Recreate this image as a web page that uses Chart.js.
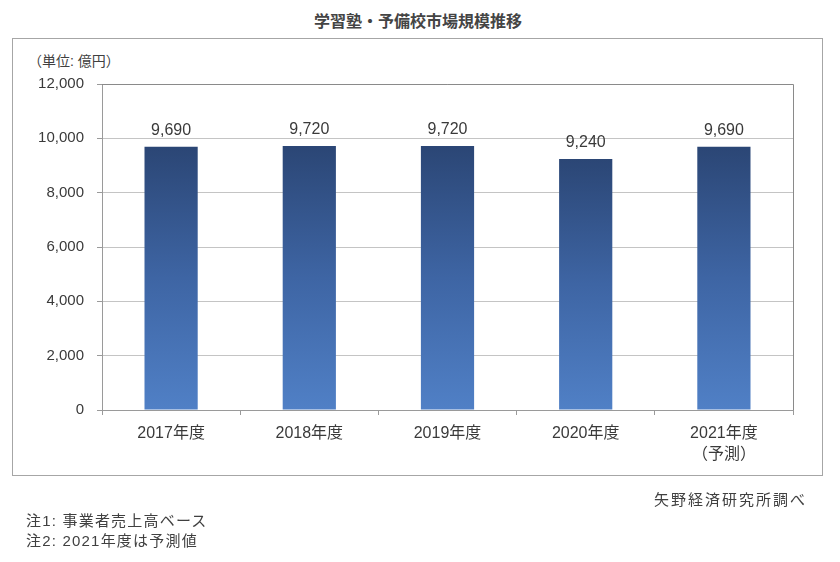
<!DOCTYPE html>
<html lang="ja">
<head>
<meta charset="utf-8">
<script src="https://cdn.jsdelivr.net/npm/chart.js@4.4.1/dist/chart.umd.min.js"></script>
<style>
  html, body { margin: 0; padding: 0; background: #fff; }
  #wrap { position: relative; width: 840px; height: 562px; overflow: hidden;
          font-family: 'Liberation Sans', 'Noto Sans CJK JP', sans-serif; color: #404040; }
  #title { position: absolute; left: 0; width: 836px; top: 11px; text-align: center;
           font-size: 16px; font-weight: bold; color: #444; line-height: 22px; }
  #box { position: absolute; left: 12px; top: 38px; width: 811px; height: 438px;
         border: 1px solid #a6a6a6; box-sizing: border-box; }
  #unit { position: absolute; left: 28px; top: 51px; font-size: 14px; line-height: 20px; color: #404040; }
  #chart { position: absolute; left: 0; top: 0; }
  #source { position: absolute; right: 33px; top: 489px; font-size: 15px; letter-spacing: 2px; line-height: 22px; }
  .note { position: absolute; left: 26px; font-size: 15px; letter-spacing: 1.2px; line-height: 20px; }
</style>
</head>
<body>
<div id="wrap">
  <div id="title">学習塾・予備校市場規模推移</div>
  <div id="box"></div>
  <div id="unit">（単位: 億円）</div>
  <canvas id="chart" width="840" height="562"></canvas>
  <div id="source">矢野経済研究所調べ</div>
  <div class="note" style="top:511px">注1: 事業者売上高ベース</div>
  <div class="note" style="top:531px">注2: 2021年度は予測値</div>
</div>
<script>
// ---- data ----
const categories = ['2017年度', '2018年度', '2019年度', '2020年度', ['2021年度', '（予測）']];
const marketSize = [9690, 9720, 9720, 9240, 9690];
const yTickValues = [0, 2000, 4000, 6000, 8000, 10000, 12000];

const FONT = "'Liberation Sans', 'Noto Sans CJK JP', sans-serif";
const TEXT = '#3a3a3a';
const fmt = v => Number(v).toLocaleString('en-US');

const valueLabels = {
  id: 'valueLabels',
  afterDatasetsDraw(chart) {
    const ctx = chart.ctx;
    const meta = chart.getDatasetMeta(0);
    ctx.save();
    ctx.font = '16px ' + FONT;
    ctx.fillStyle = TEXT;
    ctx.textAlign = 'center';
    ctx.textBaseline = 'middle';
    meta.data.forEach((bar, i) => {
      ctx.fillText(fmt(chart.data.datasets[0].data[i]), bar.x, bar.y - 16);
    });
    ctx.restore();
  }
};

const plotBorder = {
  id: 'plotBorder',
  afterDraw(chart) {
    const a = chart.chartArea;
    const ctx = chart.ctx;
    ctx.save();
    ctx.strokeStyle = '#8a8a8a';
    ctx.lineWidth = 1;
    ctx.beginPath();
    ctx.moveTo(a.left, a.top + 0.5);
    ctx.lineTo(a.right + 0.5, a.top + 0.5);
    ctx.lineTo(a.right + 0.5, a.bottom);
    ctx.stroke();
    ctx.restore();
  }
};

function barGradient(context) {
  const chart = context.chart;
  const area = chart.chartArea;
  if (!area || context.raw === undefined) return '#3d62a0';
  const y0 = chart.scales.y.getPixelForValue(context.raw);
  const g = chart.ctx.createLinearGradient(0, y0, 0, area.bottom);
  g.addColorStop(0, '#2b4675');
  g.addColorStop(0.5, '#3e65a4');
  g.addColorStop(1, '#5080c6');
  return g;
}

new Chart(document.getElementById('chart'), {
  type: 'bar',
  data: {
    labels: categories,
    datasets: [{
      data: marketSize,
      backgroundColor: barGradient,
      borderWidth: 0,
      categoryPercentage: 1.0,
      barPercentage: 0.385
    }]
  },
  options: {
    responsive: false,
    animation: false,
    devicePixelRatio: 1,
    layout: { padding: { left: 0, top: 84, right: 47, bottom: 92 } },
    plugins: { legend: { display: false }, tooltip: { enabled: false }, title: { display: false } },
    scales: {
      x: {
        afterFit: s => { s.height = 60; },
        grid: { drawOnChartArea: false, drawTicks: true, tickLength: 5, color: '#9a9a9a', offset: true },
        border: { color: '#9a9a9a' },
        ticks: { color: TEXT, font: { family: FONT, size: 16, lineHeight: 1.3 }, padding: 8, maxRotation: 0 }
      },
      y: {
        min: 0, max: 12000,
        afterFit: s => { s.width = 102; },
        afterBuildTicks: s => { s.ticks = yTickValues.map(v => ({ value: v })); },
        grid: { color: '#c4c4c4', tickLength: 5, tickColor: '#9a9a9a' },
        border: { color: '#9a9a9a' },
        ticks: { color: TEXT, font: { family: FONT, size: 15 }, padding: 13, callback: v => fmt(v) }
      }
    }
  },
  plugins: [valueLabels, plotBorder]
});
</script>
</body>
</html>
